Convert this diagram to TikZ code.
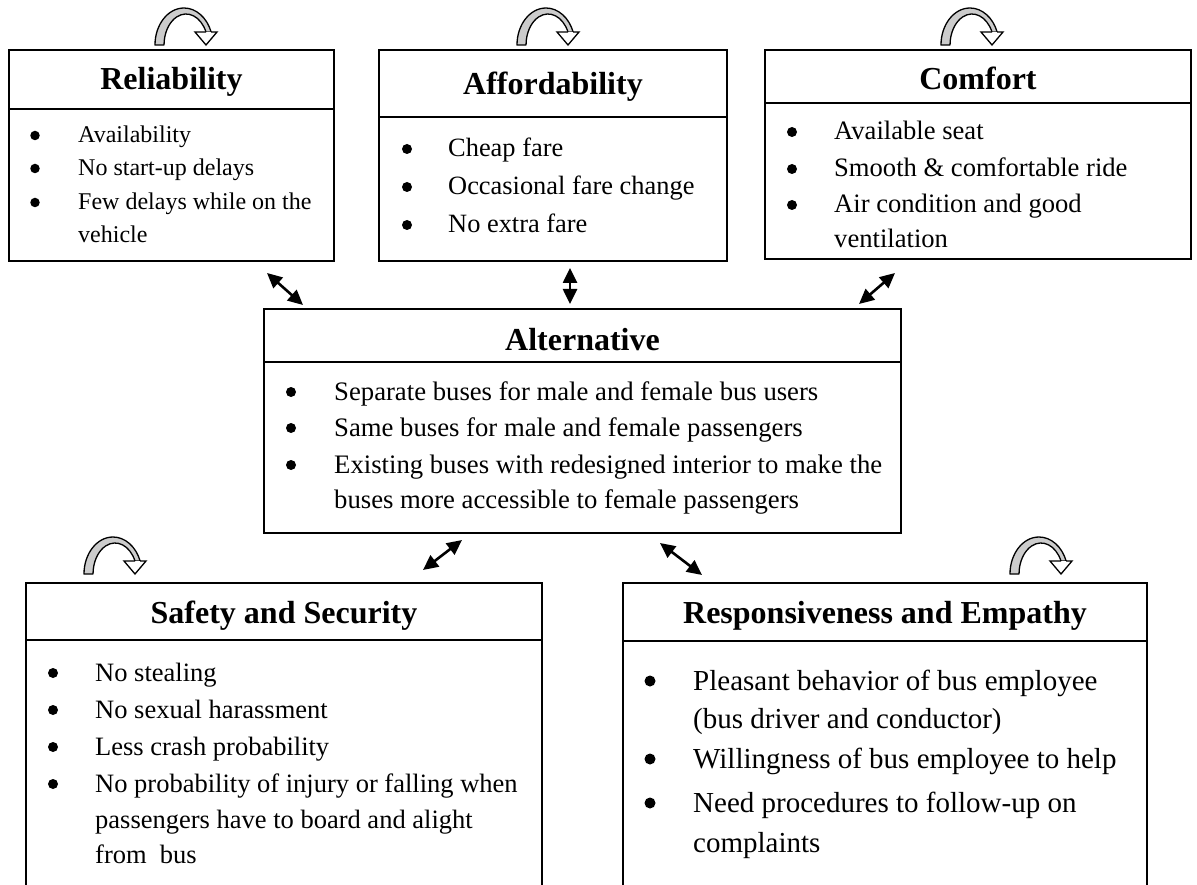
\documentclass[tikz,border=0pt]{standalone}
\usepackage{fontspec}
\setmainfont{Liberation Serif}
\usetikzlibrary{arrows.meta}
\tikzset{
  box/.style={draw, line width=2pt, inner sep=0pt, outer sep=0pt, anchor=north west},
  divider/.style={line width=2pt},
  ttl/.style={font=\fontsize{32}{38}\selectfont\bfseries, anchor=base, inner sep=0pt},
  itm/.style={anchor=base west, inner sep=0pt},
  bulbase/.style={circle, fill=black, inner sep=0pt, outer sep=0pt},
  bul/.style={bulbase, minimum size=10pt, yshift=8pt},
  bulS/.style={bulbase, minimum size=9.5pt, yshift=7.5pt},
  bulL/.style={bulbase, minimum size=11pt, yshift=9pt},
  fA/.style={font=\fontsize{24}{28}\selectfont},
  fB/.style={font=\fontsize{26.4}{30}\selectfont},
  fC/.style={font=\fontsize{26.6}{30}\selectfont},
  fD/.style={font=\fontsize{26.7}{30}\selectfont},
  fE/.style={font=\fontsize{26.5}{30}\selectfont},
  fF/.style={font=\fontsize{29}{33}\selectfont},
  dbl/.style={{Triangle[length=15pt,width=14pt]}-{Triangle[length=15pt,width=14pt]}, line width=2.6pt},
  loopicon/.pic={
    \filldraw[fill=gray!40, line width=1.3pt, line join=round]
      (0,0) arc[start angle=180, end angle=339.4, x radius=29, y radius=37]
      -- (51,-13) arc[start angle=335.2, end angle=180, x radius=22, y radius=31] -- cycle;
    \filldraw[fill=white, line width=1.3pt, line join=miter]
      (51,-13) -- (40,-13) -- (51,0) -- (62,-13) -- (56.1,-13);
  }
}
\begin{document}
\begin{tikzpicture}[x=1pt,y=-1pt]
\useasboundingbox (0,0) rectangle (1197,885);
\begin{scope}
\clip (0,0) rectangle (1197,885);

% ---------- Reliability ----------
\node[box, minimum width=325pt, minimum height=211pt] (rel) at (9,50) {};
\draw[divider] (9,109) -- (334,109);
\node[ttl] (relT) at (171.5,90) {Reliability};
\node[bulS] (rb1) at (35,143) {};
\node[bulS] (rb2) at (35,176) {};
\node[bulS] (rb3) at (35,210) {};
\node[itm,fA] (r1) at (78,143) {Availability};
\node[itm,fA] (r2) at (78,176) {No start-up delays};
\node[itm,fA] (r3) at (78,210) {Few delays while on the};
\node[itm,fA] (r4) at (78,243) {vehicle};

% ---------- Affordability ----------
\node[box, minimum width=348pt, minimum height=211pt] (aff) at (379,50) {};
\draw[divider] (379,117) -- (727,117);
\node[ttl] (affT) at (553,95) {Affordability};
\node[bul] (ab1) at (407,157) {};
\node[bul] (ab2) at (407,195) {};
\node[bul] (ab3) at (407,233) {};
\node[itm,fB] (a1) at (448,157) {Cheap fare};
\node[itm,fB] (a2) at (448,195) {Occasional fare change};
\node[itm,fB] (a3) at (448,233) {No extra fare};

% ---------- Comfort ----------
\node[box, minimum width=426pt, minimum height=209pt] (com) at (765,50) {};
\draw[divider] (765,103) -- (1191,103);
\node[ttl] (comT) at (978,90) {Comfort};
\node[bul] (cb1) at (792,140) {};
\node[bul] (cb2) at (792,177) {};
\node[bul] (cb3) at (792,213) {};
\node[itm,fC] (c1) at (834,140) {Available seat};
\node[itm,fC] (c2) at (834,177) {Smooth \& comfortable ride};
\node[itm,fC] (c3) at (834,213) {Air condition and good};
\node[itm,fC] (c4) at (834,248) {ventilation};

% ---------- Alternative ----------
\node[box, minimum width=637pt, minimum height=224pt] (alt) at (264,309) {};
\draw[divider] (264,362) -- (901,362);
\node[ttl] (altT) at (582.5,350) {Alternative};
\node[bul] (lb1) at (291,400) {};
\node[bul] (lb2) at (291,436) {};
\node[bul] (lb3) at (291,473) {};
\node[itm,fD] (l1) at (334,400) {Separate buses for male and female bus users};
\node[itm,fD] (l2) at (334,436) {Same buses for male and female passengers};
\node[itm,fD] (l3) at (334,473) {Existing buses with redesigned interior to make the};
\node[itm,fD] (l4) at (334,508) {buses more accessible to female passengers};

% ---------- Safety and Security ----------
\node[box, minimum width=516pt, minimum height=330pt] (saf) at (26,583) {};
\draw[divider] (26,640) -- (542,640);
\node[ttl] (safT) at (284,623) {Safety and Security};
\node[bul] (sb1) at (53,681) {};
\node[bul] (sb2) at (53,718) {};
\node[bul] (sb3) at (53,755) {};
\node[bul] (sb4) at (53,792) {};
\node[itm,fE] (s1) at (95,681) {No stealing};
\node[itm,fE] (s2) at (95,718) {No sexual harassment};
\node[itm,fE] (s3) at (95,755) {Less crash probability};
\node[itm,fE] (s4) at (95,792) {No probability of injury or falling when};
\node[itm,fE] (s5) at (95,828) {passengers have to board and alight};
\node[itm,fE] (s6) at (95,863) {from\ \ bus};

% ---------- Responsiveness and Empathy ----------
\node[box, minimum width=524pt, minimum height=330pt] (res) at (623,583) {};
\draw[divider] (623,641) -- (1147,641);
\node[ttl] (resT) at (885,623) {Responsiveness and Empathy};
\node[bulL] (eb1) at (650,690) {};
\node[bulL] (eb2) at (650,768) {};
\node[bulL] (eb3) at (650,812) {};
\node[itm,fF] (e1) at (693,690) {Pleasant behavior of bus employee};
\node[itm,fF] (e2) at (693,728) {(bus driver and conductor)};
\node[itm,fF] (e3) at (693,768) {Willingness of bus employee to help};
\node[itm,fF] (e4) at (693,812) {Need procedures to follow-up on};
\node[itm,fF] (e5) at (693,852) {complaints};

% ---------- loop icons ----------
\pic at (155,45) {loopicon};
\pic at (517,45) {loopicon};
\pic at (941,45) {loopicon};
\pic at (84,574) {loopicon};
\pic at (1010,574) {loopicon};

% ---------- double arrows ----------
\coordinate (p1a) at (267,273); \coordinate (p1b) at (303,305);
\coordinate (p2a) at (570,268); \coordinate (p2b) at (570,304);
\coordinate (p3a) at (895,273); \coordinate (p3b) at (859,304);
\coordinate (p4a) at (462,540); \coordinate (p4b) at (423,570);
\coordinate (p5a) at (660,543); \coordinate (p5b) at (702,575);
\draw[dbl] (p1a) -- (p1b);
\draw[dbl] (p2a) -- (p2b);
\draw[dbl] (p3a) -- (p3b);
\draw[dbl] (p4a) -- (p4b);
\draw[dbl] (p5a) -- (p5b);
\end{scope}
\end{tikzpicture}
\end{document}
